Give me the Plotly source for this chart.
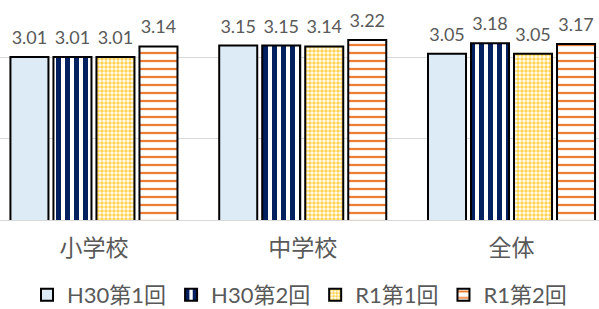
import plotly.graph_objects as go

categories = ["小学校", "中学校", "全体"]
series_names = ["H30第1回", "H30第2回", "R1第1回", "R1第2回"]
h30_1 = [3.01, 3.15, 3.05]
h30_2 = [3.01, 3.15, 3.18]
r1_1 = [3.01, 3.14, 3.05]
r1_2 = [3.14, 3.22, 3.17]

values = [h30_1, h30_2, r1_1, r1_2]
styles = [
    dict(color="#DDEBF7", pattern=dict(shape="")),
    dict(color="#FFFFFF", pattern=dict(shape="|", fgcolor="#002060", bgcolor="#FFFFFF", size=9, solidity=0.55, fillmode="replace")),
    dict(color="#FFFFFF", pattern=dict(shape=".", fgcolor="#FFD34F", bgcolor="#FFFFFF", size=4, solidity=0.6, fillmode="replace")),
    dict(color="#FFFFFF", pattern=dict(shape="-", fgcolor="#ED7D31", bgcolor="#FFFFFF", size=8, solidity=0.28, fillmode="replace")),
]

xpos = list(range(len(categories)))
font_fam = "Lato, 'Noto Sans CJK JP', sans-serif"
BARGAP = 0.176

fig = go.Figure()
for name, vals, st in zip(series_names, values, styles):
    fig.add_trace(go.Bar(
        x=xpos, y=vals, name=name,
        marker=dict(color=st["color"], pattern=st["pattern"], line=dict(color="#000000", width=2)),
        hoverinfo="skip",
    ))
for name, vals in zip(series_names, values):
    fig.add_trace(go.Scatter(
        x=xpos, y=vals, mode="markers+text", showlegend=False,
        marker=dict(size=12, opacity=0),
        text=[f"{v:.2f}" for v in vals], textposition="top center",
        textfont=dict(size=18, color="#595959", family=font_fam),
        cliponaxis=False, hoverinfo="skip",
    ))

fig.update_layout(
    width=599, height=309,
    margin=dict(l=0, r=0, t=1, b=89, autoexpand=False),
    paper_bgcolor="white", plot_bgcolor="white",
    barmode="group", bargap=BARGAP, bargroupgap=0.116,
    scattermode="group", scattergap=BARGAP,
    font=dict(family=font_fam, color="#595959"),
    xaxis=dict(
        tickmode="array", tickvals=xpos, ticktext=categories,
        range=[-0.450, 2.419], showgrid=False, zeroline=False,
        showline=True, linecolor="#D9D9D9", linewidth=1,
        tickfont=dict(size=23, color="#595959", family=font_fam),
        ticks="", ticklabelstandoff=7,
    ),
    yaxis=dict(
        range=[1, 3.7], dtick=1, tick0=0, showticklabels=False,
        showgrid=True, gridcolor="#D9D9D9", gridwidth=1, zeroline=False,
    ),
    legend=dict(
        orientation="h", x=0.5, xanchor="center", y=-0.342, yanchor="middle",
        font=dict(size=22, color="#595959", family=font_fam),
        traceorder="normal", itemwidth=30,
    ),
    showlegend=True,
)

fig.write_html("out.html", config={"displayModeBar": False},
               post_script="document.body.style.margin='0';document.body.style.padding='0';")
